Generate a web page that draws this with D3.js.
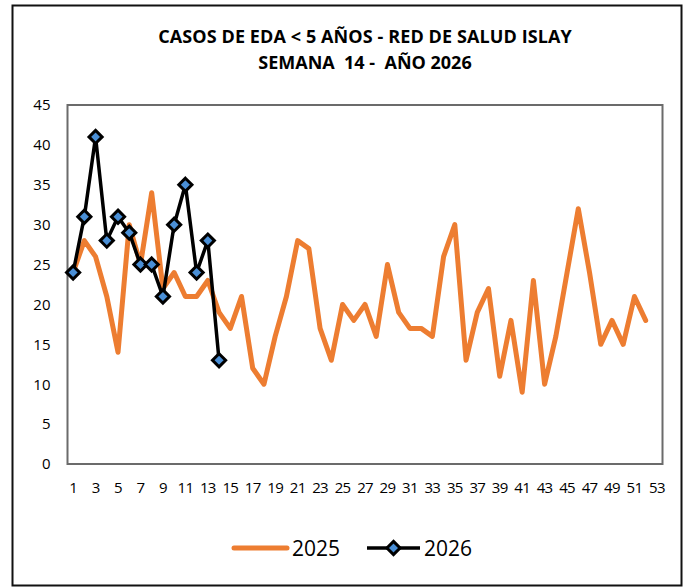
<!DOCTYPE html>
<html>
<head>
<meta charset="utf-8">
<script src="https://cdn.jsdelivr.net/npm/d3@7"></script>
<style>
  body { margin:0; background:#fff; }
  text { font-family: "Open Sans", "Liberation Sans", sans-serif; }
</style>
</head>
<body>
<script>
// semanas epidemiologicas
var weeks = d3.range(1, 54);
var yTicks = [0,5,10,15,20,25,30,35,40,45];

// casos por semana
var cases2025 = [24,28,26,21,14,30,25,34,22,24,21,21,23,19,17,21,12,10,16,21,
  28,27,17,13,20,18,20,16,25,19,17,17,16,26,30,13,19,22,11,18,
  9,23,10,16,24,32,24,15,18,15,21,18];
var cases2026 = [24,31,41,28,31,29,25,25,21,30,35,24,28,13];

var width = 690, height = 587;
var svg = d3.select('body').append('svg')
  .attr('width', width)
  .attr('height', height);

// marco exterior
svg.append('rect')
  .attr('x', 12.5).attr('y', 5.5)
  .attr('width', 669).attr('height', 580)
  .attr('fill', 'none')
  .attr('stroke', '#111')
  .attr('stroke-width', 2);

var plotL = 67.5, plotT = 105, plotR = 662.5, plotB = 464;

var x = d3.scaleBand().domain(weeks).range([plotL, plotR]);
var y = d3.scaleLinear().domain([0, 45]).range([plotB, plotT]);

// titulo
svg.append('text')
  .attr('x', 365).attr('y', 43)
  .attr('text-anchor', 'middle')
  .attr('font-size', 18).attr('font-weight', 'bold')
  .attr('letter-spacing', 0.1)
  .text('CASOS DE EDA < 5 AÑOS - RED DE SALUD ISLAY');
svg.append('text')
  .attr('x', 365).attr('y', 69)
  .attr('text-anchor', 'middle')
  .attr('font-size', 18).attr('font-weight', 'bold')
  .attr('xml:space', 'preserve')
  .text('SEMANA  14 -  AÑO 2026');

// area del grafico
svg.append('rect')
  .attr('x', plotL).attr('y', plotT)
  .attr('width', plotR - plotL).attr('height', plotB - plotT)
  .attr('fill', 'none')
  .attr('stroke', '#6b6b6b')
  .attr('stroke-width', 2);

// eje y
var yAxis = svg.append('g')
  .attr('transform', 'translate(' + plotL + ',0)')
  .call(d3.axisLeft(y).tickValues(yTicks).tickSize(0).tickPadding(17));
yAxis.select('.domain').remove();
yAxis.attr('font-size', 15).attr('font-family', null);
yAxis.selectAll('text').attr('fill', '#000');

// eje x
var xAxis = svg.append('g')
  .attr('transform', 'translate(0,' + plotB + ')')
  .call(d3.axisBottom(x)
    .tickValues(weeks.filter(function(d){ return d % 2 === 1; }))
    .tickSize(0).tickPadding(18));
xAxis.select('.domain').remove();
xAxis.attr('font-size', 15).attr('font-family', null);
xAxis.selectAll('text').attr('fill', '#000').attr('letter-spacing', -0.7);

var line = d3.line()
  .x(function(d, i){ return x(weeks[i]) + x.bandwidth() / 2; })
  .y(function(d){ return y(d); });

svg.append('path')
  .datum(cases2025)
  .attr('d', line)
  .attr('fill', 'none')
  .attr('stroke', '#ed7d31')
  .attr('stroke-width', 5)
  .attr('stroke-linejoin', 'round')
  .attr('stroke-linecap', 'round');

svg.append('path')
  .datum(cases2026)
  .attr('d', line)
  .attr('fill', 'none')
  .attr('stroke', '#000')
  .attr('stroke-width', 3.5)
  .attr('stroke-linejoin', 'round');

var diamond = d3.symbol().type(d3.symbolDiamond2).size(110);

svg.selectAll('.m26')
  .data(cases2026)
  .enter().append('path')
  .attr('class', 'm26')
  .attr('d', diamond)
  .attr('transform', function(d, i){
    return 'translate(' + (x(weeks[i]) + x.bandwidth() / 2) + ',' + y(d) + ')';
  })
  .attr('fill', '#4a8fd6')
  .attr('stroke', '#000')
  .attr('stroke-width', 3);

// leyenda
var legY = 548;
svg.append('line')
  .attr('x1', 234).attr('x2', 287).attr('y1', legY).attr('y2', legY)
  .attr('stroke', '#ed7d31').attr('stroke-width', 5).attr('stroke-linecap', 'round');
svg.append('text')
  .attr('x', 292).attr('y', legY + 8)
  .attr('font-size', 21).text('2025');

svg.append('line')
  .attr('x1', 367).attr('x2', 420).attr('y1', legY).attr('y2', legY)
  .attr('stroke', '#000').attr('stroke-width', 3.5);
svg.append('path')
  .attr('d', diamond)
  .attr('transform', 'translate(393.5,' + legY + ')')
  .attr('fill', '#4a8fd6')
  .attr('stroke', '#000')
  .attr('stroke-width', 3);
svg.append('text')
  .attr('x', 424).attr('y', legY + 8)
  .attr('font-size', 21).text('2026');
</script>
</body>
</html>
